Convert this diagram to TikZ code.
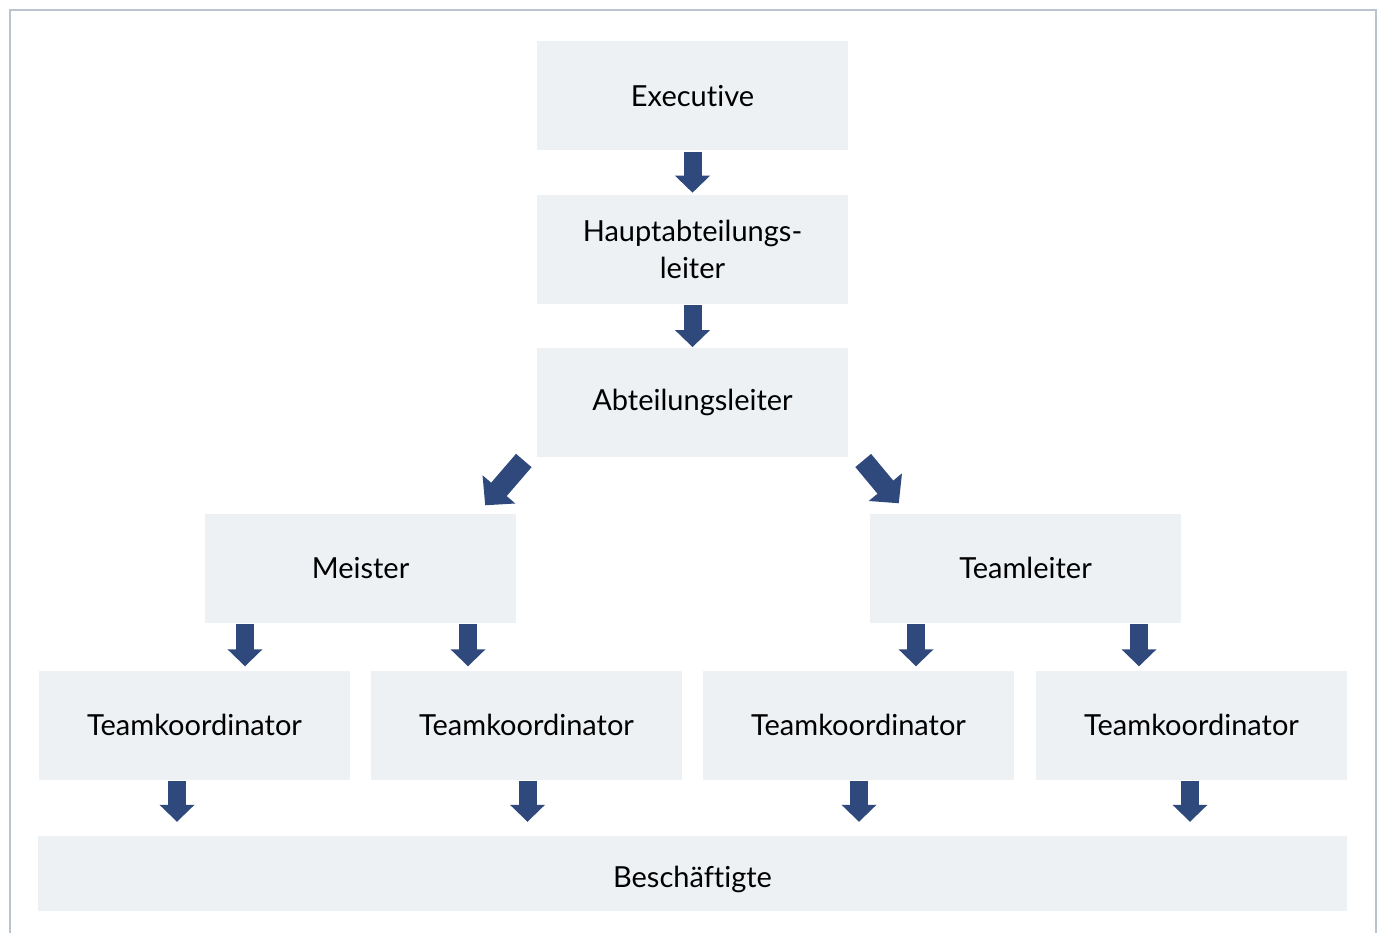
\documentclass[tikz,border=0pt]{standalone}
\usepackage{fontspec}
\setmainfont{Lato}[Ligatures={NoCommon}]
\usepackage{tikz}
\usetikzlibrary{positioning, arrows.meta, calc}
\definecolor{boxgray}{RGB}{237, 241, 244}
\definecolor{arrowblue}{RGB}{47, 73, 125}
\definecolor{framegray}{RGB}{185, 196, 206}

\begin{document}
\begin{tikzpicture}[
      x=1pt, y=-1pt,
      node distance=44pt,
      box/.style={
        fill=boxgray, inner sep=0pt,
        minimum width=311pt, minimum height=109pt,
        align=center, font=\fontsize{29}{37}\selectfont
      },
      blk/.style={
        draw=arrowblue, line width=18pt, shorten <=1pt,
        -{Triangle[length=17pt, width=34pt]}
      },
      blkdiag/.style={
        draw=arrowblue, line width=20.5pt,
        -{Triangle[length=21pt, width=42pt]}
      }
    ]
      \useasboundingbox (0,0) rectangle (1381,933);
      \draw[framegray, line width=2.5pt] (10,940) -- (10,10) -- (1376,10) -- (1376,940);

      \node[box] (exec) at (692.5,96) {Executive};
      \node[box, below=of exec] (haupt) {Hauptabteilungs-\\leiter};
      \node[box, below=of haupt] (abt) {Abteilungsleiter};
      \node[box] (meister) at (360.5,568) {Meister};
      \node[box] (teaml) at (1025.5,568) {Teamleiter};
      \node[box] (tk1) at (194.5,725) {Teamkoordinator};
      \node[box] (tk2) at (526.5,725) {Teamkoordinator};
      \node[box] (tk3) at (858.5,725) {Teamkoordinator};
      \node[box] (tk4) at (1191.5,725) {Teamkoordinator};
      \node[box, minimum width=1309pt, minimum height=75pt,
        text height=28pt, text depth=0pt] (besch) at (692.5,873.5) {Beschäftigte};

      \draw[blk, shorten >=2pt] (exec) -- (haupt);
      \draw[blk, shorten >=1pt] (haupt) -- (abt);
      \draw[blkdiag] ($(abt.south west)+(-13,3)$) -- ($(meister.north east)+(-31,-8)$);
      \draw[blkdiag] ($(abt.south east)+(15,3)$) -- ($(teaml.north west)+(29,-10)$);
      \draw[blk, shorten >=4pt] ([xshift=-115.5pt]meister.south) -- ([xshift=-115.5pt]meister.south |- tk1.north);
      \draw[blk, shorten >=4pt] ([xshift=107.5pt]meister.south) -- ([xshift=107.5pt]meister.south |- tk2.north);
      \draw[blk, shorten >=4pt] ([xshift=-109.5pt]teaml.south) -- ([xshift=-109.5pt]teaml.south |- tk3.north);
      \draw[blk, shorten >=4pt] ([xshift=113.5pt]teaml.south) -- ([xshift=113.5pt]teaml.south |- tk4.north);
      \draw[blk, shorten >=14pt] ([xshift=-17.5pt]tk1.south) -- ([xshift=-17.5pt]tk1.south |- besch.north);
      \draw[blk, shorten >=14pt] ([xshift=1pt]tk2.south) -- ([xshift=1pt]tk2.south |- besch.north);
      \draw[blk, shorten >=14pt] ([xshift=0.5pt]tk3.south) -- ([xshift=0.5pt]tk3.south |- besch.north);
      \draw[blk, shorten >=14pt] ([xshift=-1.5pt]tk4.south) -- ([xshift=-1.5pt]tk4.south |- besch.north);
    \end{tikzpicture}
\end{document}
